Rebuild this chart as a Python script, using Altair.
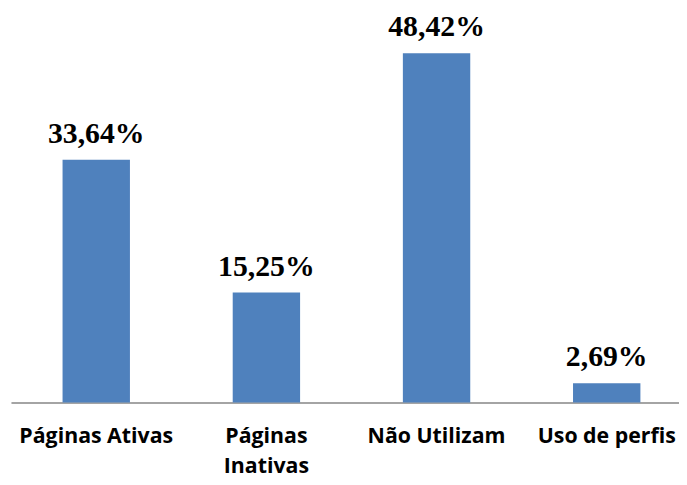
import altair as alt
import pandas as pd

categories = ["Páginas Ativas", "Páginas|Inativas", "Não Utilizam", "Uso de perfis"]
values = [33.64, 15.25, 48.42, 2.69]
labels = ["33,64%", "15,25%", "48,42%", "2,69%"]

df = pd.DataFrame({"cat": categories, "val": values, "lab": labels})

x = alt.X("cat:N", sort=categories, title=None,
          scale=alt.Scale(paddingInner=0.604, paddingOuter=0.265, align=0.572),
          axis=alt.Axis(labelAngle=0, ticks=False, domainColor="#868686", domainWidth=1.5,
                        labelFont="Open Sans", labelFontWeight="bold", labelFontSize=21.5,
                        labelColor="#000000", labelPadding=23, labelBaseline="top",
                        labelLineHeight=31,
                        labelExpr="split(datum.label, '|')"))
y = alt.Y("val:Q", title=None, scale=alt.Scale(domain=[0, 50], nice=False),
          axis=None)

bars = alt.Chart(df).mark_bar(color="#4f81bd").encode(x=x, y=y)
text = alt.Chart(df).mark_text(font="Liberation Serif", fontWeight="bold", fontSize=30,
                               baseline="alphabetic", dy=-17, color="#000000").encode(
    x=alt.X("cat:N", sort=categories), y="val:Q", text="lab:N")

chart = (bars + text).properties(
    width=674, height=364,
    autosize=alt.AutoSizeParams(type="none"),
    padding={"left": 3, "top": 32, "right": 0, "bottom": 75},
).configure_view(stroke=None)

chart.save("out.html", embed_options={"renderer": "svg", "actions": False})
